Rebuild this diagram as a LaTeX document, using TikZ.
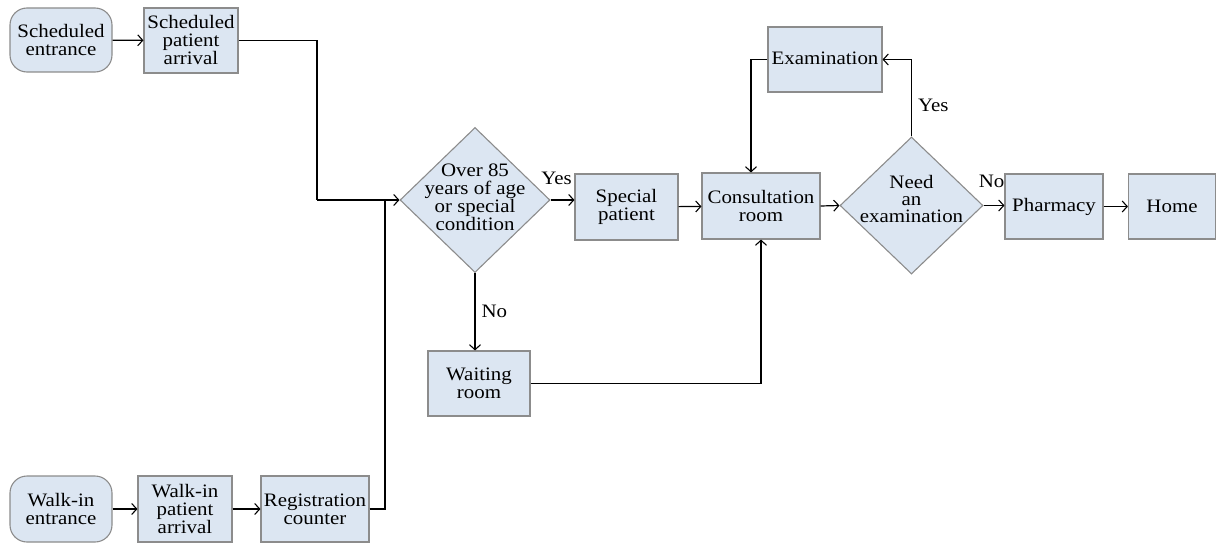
\documentclass[tikz,border=0pt]{standalone}
\usepackage{fontspec}
\setmainfont[FakeStretch=1.1]{Liberation Serif}
\usetikzlibrary{shapes.geometric,arrows.meta}
\definecolor{boxfill}{HTML}{DCE6F2}
\definecolor{boxline}{HTML}{8C8C8C}
\tikzset{
  box/.style={draw=boxline, fill=boxfill, line width=1.1pt, inner sep=0pt, align=center,
    font=\fontsize{19}{18}\selectfont},
  rbox/.style={box, rounded corners=17pt},
  dia/.style={draw=boxline, fill=boxfill, line width=1.1pt, diamond, inner sep=0pt, aspect=1},
  txt/.style={inner sep=0pt, align=center, font=\fontsize{19}{18}\selectfont},
  conn/.style={draw=black, line width=1.2pt, -{Straight Barb[length=5pt,width=11pt,line width=1.1pt]}},
  plain/.style={draw=black, line width=1.2pt},
}
\begin{document}
\begin{tikzpicture}[x=1pt,y=-1pt]
\useasboundingbox (0,0) rectangle (1216,543);
% top-left
\node[rbox, minimum width=102pt, minimum height=64pt] (se) at (61,40) {Scheduled\\entrance};
\node[box, minimum width=94pt, minimum height=65pt] (sa) at (191,40.5) {Scheduled\\patient\\arrival};
% bottom-left
\node[rbox, minimum width=102pt, minimum height=66pt] (we) at (61,509) {Walk-in\\entrance};
\node[box, minimum width=94pt, minimum height=66pt] (wa) at (185,509) {Walk-in\\patient\\arrival};
\node[box, minimum width=108pt, minimum height=66pt] (rc) at (315,509) {Registration\\counter};
% decision 1
\node[dia, minimum width=150pt, minimum height=145pt] (d1) at (475,200) {};
\node[txt] (d1t) at (475,197) {Over 85\\years of age\\or special\\condition};
\node[box, minimum width=103pt, minimum height=66pt] (sp) at (626.5,207) {Special\\patient};
\node[box, minimum width=102pt, minimum height=65pt] (wr) at (479,383.5) {Waiting\\room};
% consultation
\node[box, minimum width=118pt, minimum height=66pt] (cr) at (761,206) {Consultation\\room};
\node[dia, minimum width=143pt, minimum height=137pt] (d2) at (911.5,205.5) {};
\node[txt, font=\fontsize{19}{17}\selectfont] (d2t) at (911.5,199) {Need\\an\\examination};
\node[box, minimum width=114pt, minimum height=65pt] (ex) at (825,59.5) {};
\node[txt] (ext) at (825,58) {Examination};
\node[box, minimum width=98pt, minimum height=65pt] (ph) at (1054,206.5) {Pharmacy};
\node[box, minimum width=87pt, minimum height=65pt] (hm) at (1172,206.5) {Home};
% junctions
\coordinate (j1) at (317,200);
\coordinate (j2) at (385,200);
% connectors
\draw[conn] (se) -- (sa);
\draw[conn] (we) -- (wa);
\draw[conn] (wa) -- (rc);
\draw[plain] (sa.east) -| (j1);
\draw[conn] (j1) -- (d1.west);
\draw[plain] (rc.east) -| (j2);
\draw[conn] (d1.east) -- (d1.east -| sp.west);
\node[txt] (ly1) at ([xshift=6pt,yshift=22pt]d1.east) {Yes};
\draw[conn] (sp) -- (cr);
\draw[conn] (d1.south) -- (d1.south |- wr.north) node[txt, pos=0.5, right=6pt] (ln1) {No};
\draw[conn] (wr.east) -| (cr.south);
\draw[conn] (cr.east) -- (d2.west);
\draw[conn] (d2.east) -- (d2.east -| ph.west);
\node[txt] (ln2) at ([xshift=8pt,yshift=24pt]d2.east) {No};
\draw[conn] (ph) -- (hm);
\draw[conn] (d2.north) |- (ex.east) node[txt, pos=0.2, right=6pt] (ly2) {Yes};
\draw[conn] (ex.west) -| ([xshift=-10pt]cr.north);
\end{tikzpicture}
\end{document}
